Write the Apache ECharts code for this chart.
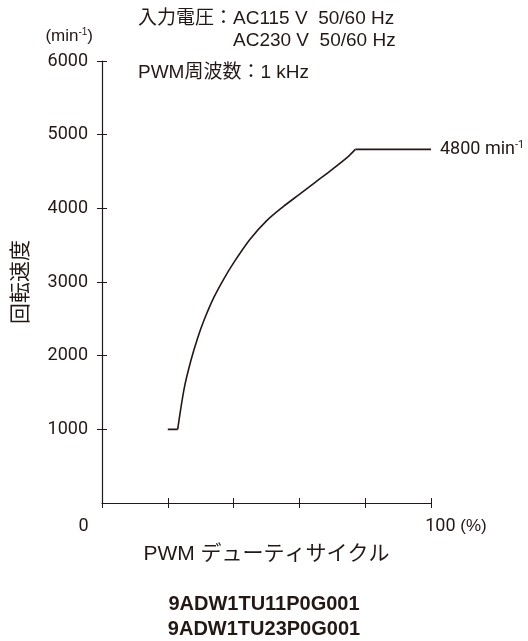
<!DOCTYPE html>
<html>
<head>
<meta charset="utf-8">
<script src="https://cdn.jsdelivr.net/npm/echarts@6/dist/echarts.min.js"></script>
<style>
  html, body { margin: 0; padding: 0; background: #fff; }
  #chart { width: 528px; height: 641px; }
</style>
</head>
<body>
<div id="chart"></div>
<script>
// duty cycle (%) vs rotational speed (min-1)
const dutyPct = [20, 23, 25, 27, 29, 31, 34, 37, 40, 45, 50, 55, 60, 65, 70, 75, 77, 100];
const speedRpm = [1000, 1000, 1560, 1930, 2230, 2480, 2790, 3040, 3260, 3580, 3830, 4020, 4190, 4360, 4530, 4710, 4800, 4800];
const yTicks = [0, 1000, 2000, 3000, 4000, 5000, 6000];
const xTicks = [0, 20, 40, 60, 80, 100];
const modelNames = ['9ADW1TU11P0G001', '9ADW1TU23P0G001'];
const notes = ['入力電圧：AC115 V  50/60 Hz', 'AC230 V  50/60 Hz', 'PWM周波数：1 kHz'];

const ink = '#231815';
const numFont = 'Roboto, sans-serif';
const mixFont = '"Liberation Sans", "Noto Sans CJK JP", sans-serif';
const jpFont = '"Noto Sans CJK JP", sans-serif';

const points = dutyPct.map((x, i) => [x, speedRpm[i]]);
const riseStart = 1;                 // end of the flat start at 1000
const riseEnd = dutyPct.length - 2;  // start of the 4800 plateau

const chart = echarts.init(document.getElementById('chart'), null, { renderer: 'canvas' });

const lineBase = { type: 'line', symbol: 'none', lineStyle: { color: ink, width: 1.6 }, silent: true };

const option = {
  animation: false,
  backgroundColor: '#fff',
  grid: { left: 102, right: 97, top: 61, bottom: 138 },
  xAxis: [{
    type: 'value',
    min: xTicks[0],
    max: xTicks[xTicks.length - 1],
    interval: 20,
    splitLine: { show: false },
    axisLine: { lineStyle: { color: ink, width: 1.2 } },
    axisTick: { length: 5, lineStyle: { color: ink, width: 1 } },
    axisLabel: {
      color: ink,
      fontFamily: numFont,
      fontSize: 18,
      margin: 14,
      showMinLabel: true,
      showMaxLabel: true,
      formatter: function (v) {
        if (v === 0) return '{z|0}';
        if (v === 100) return '{h|100}{p| (%)}';
        return '';
      },
      rich: {
        z: { fontFamily: numFont, fontSize: 18, color: ink, padding: [0, 37, 0, 0] },
        h: { fontFamily: numFont, fontSize: 18, color: ink, padding: [0, 0, 0, 50] },
        p: { fontFamily: mixFont, fontSize: 17, color: ink }
      }
    },
    name: 'PWM デューティサイクル',
    nameLocation: 'middle',
    nameGap: 41,
    nameTextStyle: { color: ink, fontFamily: mixFont, fontSize: 21 }
  }, {
    // second pass for the inner half of the crossing ticks
    type: 'value',
    position: 'bottom',
    min: xTicks[0],
    max: xTicks[xTicks.length - 1],
    interval: 20,
    splitLine: { show: false },
    axisLine: { show: false },
    axisTick: { inside: true, length: 5, lineStyle: { color: ink, width: 1 } },
    axisLabel: { show: false }
  }],
  yAxis: [{
    type: 'value',
    min: yTicks[0],
    max: yTicks[yTicks.length - 1],
    interval: 1000,
    splitLine: { show: false },
    axisLine: { show: true, lineStyle: { color: ink, width: 1.2 } },
    axisTick: { show: true, length: 5, lineStyle: { color: ink, width: 1 } },
    axisLabel: {
      color: ink,
      fontFamily: numFont,
      fontSize: 18,
      margin: 14,
      showMinLabel: false,
      formatter: function (v) { return String(v); }
    },
    name: '回転速度',
    nameLocation: 'middle',
    nameGap: 72,
    nameTextStyle: { color: ink, fontFamily: jpFont, fontSize: 21 }
  }, {
    type: 'value',
    position: 'left',
    min: yTicks[0],
    max: yTicks[yTicks.length - 1],
    interval: 1000,
    splitLine: { show: false },
    axisLine: { show: false },
    axisTick: { show: true, inside: true, length: 5, lineStyle: { color: ink, width: 1 } },
    axisLabel: { show: false },
    name: '(min{s|-1})',
    nameLocation: 'end',
    nameGap: 16,
    nameTextStyle: {
      color: ink, fontFamily: mixFont, fontSize: 17, align: 'right', padding: [0, 9, 0, 0],
      rich: { s: { fontFamily: mixFont, fontSize: 10, color: ink, padding: [0, 0, 8, 0] } }
    }
  }],
  series: [
    Object.assign({}, lineBase, { data: points.slice(0, riseStart + 1) }),
    Object.assign({}, lineBase, { data: points.slice(riseStart, riseEnd + 1), smooth: 0.3 }),
    Object.assign({}, lineBase, {
      data: points.slice(riseEnd),
      endLabel: {
        show: true,
        distance: 9,
        color: ink,
        fontFamily: numFont,
        fontSize: 18,
        formatter: function (p) { return p.value[1] + ' min{s|-1}'; },
        rich: { s: { fontFamily: numFont, fontSize: 11, color: ink, padding: [0, 0, 9, 0] } }
      }
    })
  ],
  graphic: [
    { type: 'text', left: 138, top: 9, style: { text: notes[0], fill: ink, font: '19px ' + mixFont } },
    { type: 'text', left: 233, top: 31, style: { text: notes[1], fill: ink, font: '19px ' + mixFont } },
    { type: 'text', left: 138, top: 63, style: { text: notes[2], fill: ink, font: '19px ' + mixFont } },
    { type: 'text', left: 'center', top: 594, style: { text: modelNames[0], fill: ink, font: 'bold 20px "Liberation Sans", Arial, sans-serif' } },
    { type: 'text', left: 'center', top: 619, style: { text: modelNames[1], fill: ink, font: 'bold 20px "Liberation Sans", Arial, sans-serif' } }
  ]
};

chart.setOption(option);
window.addEventListener('resize', chart.resize);
</script>
</body>
</html>
